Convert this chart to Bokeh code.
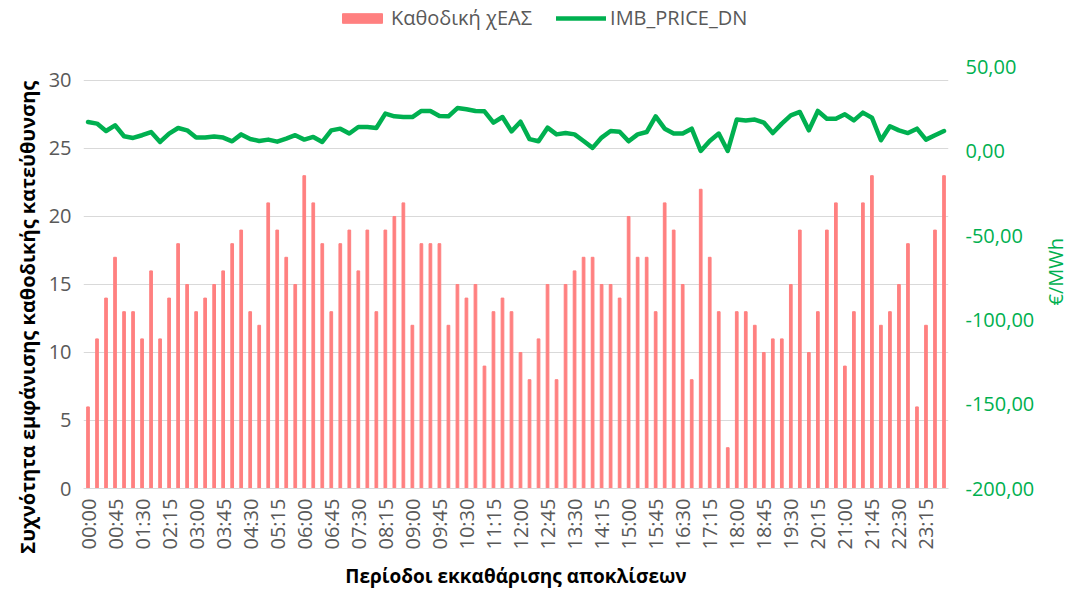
import math
from bokeh.plotting import figure
from bokeh.models import (Range1d, LinearAxis, FixedTicker, Legend, LegendItem)
from bokeh.embed import file_html
from bokeh.resources import INLINE

# ---- data ----
periods = [f"{i // 4:02d}:{(i % 4) * 15:02d}" for i in range(96)]
freq_down = [6, 11, 14, 17, 13, 13, 11, 16, 11, 14, 18, 15, 13, 14, 15, 16, 18, 19, 13, 12, 21, 19, 17,
             15, 23, 21, 18, 13, 18, 19, 16, 19, 13, 19, 20, 21, 12, 18, 18, 18, 12, 15, 14, 15, 9, 13, 14, 13, 10, 8,
             11, 15, 8, 15, 16, 17, 17, 15, 15, 14, 20, 17, 17, 13, 21, 19, 15, 8, 22, 17, 13, 3, 13, 13, 12, 10,
             11, 11, 15, 19, 10, 13, 19, 21, 9, 13, 21, 23, 12, 13, 15, 18, 6, 12, 19, 23]
imb_price_dn = [17.3, 16.4, 12.0, 15.4, 8.9, 7.9, 9.5, 11.4, 5.5, 10.5, 13.8, 12.4, 8.1, 8.1, 8.7, 8.1, 5.9, 10.0, 7.3, 6.1, 6.9, 5.7, 7.5,
                9.5, 6.9, 8.5, 5.5, 12.4, 13.4, 10.5, 14.4, 14.4, 13.8, 22.3, 20.7, 20.3, 20.3, 23.9, 23.9, 20.9, 20.7, 25.6, 24.9, 23.9, 23.7, 17.0, 20.3, 11.8, 17.5, 7.2,
                5.9, 14.0, 10.0, 10.8, 10.0, 6.1, 2.0, 8.1, 12.0, 11.6, 5.9, 10.0, 11.4, 20.7, 13.4, 10.5, 10.5, 13.4, 0.2, 6.1, 10.5, 0.2, 18.8, 18.3, 18.8, 17.0,
                10.8, 16.4, 21.3, 23.3, 12.4, 23.9, 19.3, 19.3, 21.9, 18.3, 22.9, 19.9, 6.5, 14.8, 12.4, 10.8, 13.4, 6.9, 9.5, 12.0]
left_ticks = [0, 5, 10, 15, 20, 25, 30]
right_ticks = [-200, -150, -100, -50, 0, 50]
right_tick_labels = ["-200,00", "-150,00", "-100,00", "-50,00", "0,00", "50,00"]
right_title = "€/MWh"
right_title_at = -91.5      # where the right-hand title starts along the price scale
label_step = 3

FONT = "Open Sans"
GREY = "#595959"
GREEN = "#00B050"
RED = "#FF8080"
NBSP = "\u00a0"

xs = list(range(len(periods)))

# the frame reaches the top of the canvas so the legend can sit inside it
p = figure(frame_width=865, frame_height=488, min_border_left=83, min_border_right=114,
           min_border_top=0, min_border_bottom=101,
           x_range=Range1d(-0.5, len(periods) - 0.5), y_range=Range1d(0, 35.88),
           output_backend="svg", toolbar_location=None, tools="")
p.extra_y_ranges = {"price": Range1d(-200, 89.4)}

bars = p.vbar(x=xs, top=freq_down, width=0.3, color=RED)
line = p.line(x=xs, y=imb_price_dn, y_range_name="price", color=GREEN, line_width=4.5,
              line_join="round", line_cap="round")

# x axis
xa = p.xaxis[0]
xa.ticker = FixedTicker(ticks=xs[::label_step])
xa.major_label_overrides = {i: periods[i] for i in xs[::label_step]}
xa.major_label_orientation = math.pi / 2
xa.major_label_text_font = FONT
xa.major_label_text_font_size = "20px"
xa.major_label_text_color = GREY
xa.major_label_standoff = 4
xa.major_tick_line_color = None
xa.minor_tick_line_color = None
xa.axis_line_color = "#D9D9D9"
xa.axis_label = "Περίοδοι εκκαθάρισης αποκλίσεων"
xa.axis_label_text_font = FONT
xa.axis_label_text_font_style = "bold"
xa.axis_label_text_font_size = "19px"
xa.axis_label_text_color = "#000000"
xa.axis_label_standoff = 11

# left axis
ya = p.yaxis[0]
ya.ticker = FixedTicker(ticks=left_ticks)
ya.major_label_text_font = FONT
ya.major_label_text_font_size = "20px"
ya.major_label_text_color = GREY
ya.major_label_standoff = 6
ya.major_tick_line_color = None
ya.minor_tick_line_color = None
ya.axis_line_color = None
ya.axis_label = "Συχνότητα εμφάνισης καθοδικής  κατεύθυνσης" + NBSP * 27
ya.axis_label_text_font = FONT
ya.axis_label_text_font_style = "bold"
ya.axis_label_text_font_size = "20px"
ya.axis_label_text_color = "#000000"
ya.axis_label_standoff = 5

# right axis (price ticks)
ra = LinearAxis(y_range_name="price", ticker=FixedTicker(ticks=right_ticks))
ra.major_label_overrides = {t: s for t, s in zip(right_ticks, right_tick_labels)}
ra.major_label_text_font = FONT
ra.major_label_text_font_size = "20px"
ra.major_label_text_color = GREEN
ra.major_label_standoff = 11
ra.major_tick_line_color = None
ra.minor_tick_line_color = None
ra.axis_line_color = None
p.add_layout(ra, "right")

# right-hand title, drawn as the single vertical label of an outer axis
ua = LinearAxis(y_range_name="price", ticker=FixedTicker(ticks=[right_title_at]))
ua.major_label_overrides = {right_title_at: right_title}
ua.major_label_orientation = math.pi / 2
ua.major_label_text_font = FONT
ua.major_label_text_font_size = "20px"
ua.major_label_text_color = GREEN
ua.major_label_standoff = 12
ua.major_tick_line_color = None
ua.minor_tick_line_color = None
ua.axis_line_color = None
p.add_layout(ua, "right")

p.xgrid.grid_line_color = None
p.ygrid.grid_line_color = "#D9D9D9"
p.ygrid.grid_line_width = 1
p.outline_line_color = None

legend = Legend(items=[LegendItem(label="Καθοδική χΕΑΣ", renderers=[bars]),
                       LegendItem(label="IMB_PRICE_DN", renderers=[line])],
                orientation="horizontal", location=(254, 457),
                glyph_width=50, glyph_height=12, label_standoff=4, spacing=24,
                padding=0, margin=0, border_line_color=None, background_fill_alpha=0,
                label_text_font=FONT, label_text_font_size="20px", label_text_color=GREY)
p.add_layout(legend, "center")

open("out.html", "w").write(file_html(p, INLINE))
